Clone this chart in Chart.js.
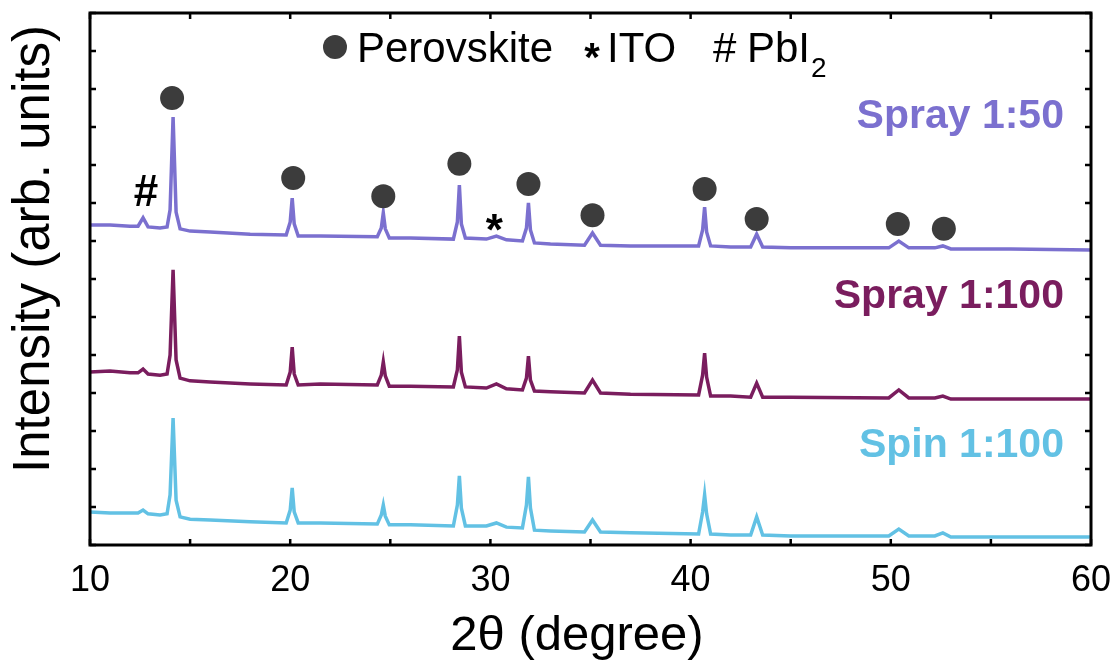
<!DOCTYPE html>
<html>
<head>
<meta charset="utf-8">
<script src="https://cdn.jsdelivr.net/npm/chart.js@4.4.1/dist/chart.umd.min.js"></script>
<style>
  html, body { margin: 0; padding: 0; background: #fff; }
  #wrap { width: 1119px; height: 668px; }
</style>
</head>
<body>
<div id="wrap"><canvas id="xrd"></canvas></div>
<script>
// 2θ positions shared by the three scans
const twoTheta = [10, 11, 12, 12.4, 12.65, 12.9, 13.5, 13.85, 14.0, 14.15, 14.3, 14.5, 15, 16, 18,
  19.8, 20.0, 20.1, 20.2, 20.4, 21.5, 24.35, 24.55, 24.65, 24.75, 24.95, 26, 28.15, 28.35, 28.45,
  28.55, 28.75, 29.8, 30.3, 30.8, 31.6, 31.8, 31.9, 32.0, 32.2, 33, 34.7, 35.1, 35.5, 37, 40.4,
  40.6, 40.7, 40.8, 41.0, 42, 43.0, 43.3, 43.6, 45, 49.9, 50.4, 50.9, 52.2, 52.6, 53.0, 56, 60];

// intensities (arb. units, already offset)
const spray50 = [84.2, 84.2, 83.9, 83.9, 86.1, 83.7, 83.4, 83.7, 88.2, 112.6, 87.6, 83.2, 82.6, 82.4, 81.8,
  81.6, 85.0, 91.3, 84.5, 81.3, 81.3, 81.1, 83.4, 87.4, 83.2, 80.8, 80.8, 80.5, 85.0, 94.7,
  84.5, 80.8, 80.5, 81.3, 80.3, 80.0, 83.4, 90.0, 82.9, 79.5, 79.2, 78.9, 82.1, 78.9, 78.7, 78.7,
  82.9, 88.9, 82.4, 78.7, 78.4, 78.4, 81.8, 78.4, 78.2, 78.2, 80.0, 78.2, 78.2, 78.7, 77.9, 77.9, 77.6];
const spray100 = [45.5, 45.8, 45.3, 45.3, 46.3, 45.0, 44.7, 45.0, 50.0, 72.4, 48.7, 43.9, 43.2, 42.9, 42.4,
  42.1, 45.5, 52.1, 45.0, 42.1, 42.4, 42.1, 44.7, 48.2, 44.5, 41.8, 41.8, 41.6, 46.1, 55.0,
  45.5, 41.6, 41.3, 42.4, 41.1, 40.8, 43.9, 49.7, 43.4, 40.5, 40.3, 40.0, 43.4, 40.0, 39.7, 39.5,
  44.7, 50.5, 44.2, 39.2, 39.2, 38.9, 42.6, 38.9, 38.9, 38.7, 40.8, 38.7, 38.7, 39.2, 38.4, 38.4, 38.4];
const spin100 = [8.7, 8.4, 8.4, 8.4, 9.2, 8.2, 7.9, 8.2, 13.2, 33.4, 11.8, 7.4, 6.8, 6.6, 6.1,
  5.8, 9.2, 15.0, 8.7, 5.8, 5.8, 5.5, 7.9, 10.5, 7.6, 5.3, 5.3, 5.0, 10.5, 18.2,
  9.7, 5.0, 5.0, 5.8, 4.7, 4.5, 10.5, 17.9, 9.7, 3.9, 3.7, 3.4, 6.6, 3.4, 3.2, 2.9,
  8.7, 13.2, 8.2, 2.9, 2.6, 2.6, 7.4, 2.6, 2.4, 2.4, 4.2, 2.4, 2.4, 3.2, 2.1, 2.1, 2.1];

// perovskite reflections marked above the Spray 1:50 scan
const perovskiteAngles = [14.1, 20.15, 24.65, 28.45, 31.9, 35.1, 40.7, 43.3, 50.35, 52.65];
const perovskiteMarks = [117.6, 96.6, 91.8, 100.3, 95.0, 86.8, 93.7, 85.8, 84.5, 83.2];

const seriesNames = ['Spray 1:50', 'Spray 1:100', 'Spin 1:100'];
const seriesColors = ['#7b70cf', '#7a1d5e', '#62c1e4'];

Chart.defaults.font.family = '"Liberation Sans", Arial, sans-serif';
Chart.defaults.color = '#000';

function toPoints(ys) {
  return ys.map((v, i) => ({ x: twoTheta[i], y: v }));
}

function textCentered(ctx, s, cx, cy) {
  const m = ctx.measureText(s);
  ctx.textAlign = 'center';
  ctx.textBaseline = 'alphabetic';
  ctx.fillText(s, cx, cy + (m.actualBoundingBoxAscent - m.actualBoundingBoxDescent) / 2);
}

// series names, right aligned, baseline in data units
const nameSpots = [{ x: 58.65, y: 109.7 }, { x: 58.65, y: 62.4 }, { x: 58.65, y: 23.2 }];
// phase symbols next to peaks
const peakNotes = [{ text: '#', x: 12.8, y: 93.2 }, { text: '*', x: 30.2, y: 85.0 }];

const decorations = {
  id: 'decorations',
  afterDatasetsDraw(chart) {
    const { ctx, chartArea: a, scales: { x, y } } = chart;
    ctx.save();

    // frame and inward ticks
    ctx.strokeStyle = '#000';
    ctx.lineWidth = 3;
    ctx.strokeRect(a.left, a.top, a.right - a.left, a.bottom - a.top);
    ctx.lineWidth = 2.5;
    ctx.beginPath();
    x.ticks.forEach(t => {
      const px = x.getPixelForValue(t.value);
      ctx.moveTo(px, a.bottom); ctx.lineTo(px, a.bottom - 6);
      ctx.moveTo(px, a.top); ctx.lineTo(px, a.top + 6);
    });
    y.ticks.forEach(t => {
      const py = y.getPixelForValue(t.value);
      ctx.moveTo(a.left, py); ctx.lineTo(a.left + 6, py);
      ctx.moveTo(a.right, py); ctx.lineTo(a.right - 6, py);
    });
    ctx.stroke();

    // series names
    ctx.font = 'bold 41px "Liberation Sans", Arial, sans-serif';
    ctx.textAlign = 'right';
    ctx.textBaseline = 'alphabetic';
    seriesNames.forEach((n, i) => {
      ctx.fillStyle = seriesColors[i];
      ctx.fillText(n, x.getPixelForValue(nameSpots[i].x), y.getPixelForValue(nameSpots[i].y));
    });

    // phase symbols
    ctx.fillStyle = '#000';
    ctx.font = 'bold 44px "Liberation Sans", Arial, sans-serif';
    peakNotes.forEach(p => textCentered(ctx, p.text, x.getPixelForValue(p.x), y.getPixelForValue(p.y)));

    // legend line at the top
    const ly = a.top + 34;
    ctx.fillStyle = '#3c3c3c';
    ctx.beginPath();
    ctx.arc(335, ly, 12, 0, Math.PI * 2);
    ctx.fill();
    ctx.fillStyle = '#000';
    ctx.font = '42px "Liberation Sans", Arial, sans-serif';
    ctx.textAlign = 'left';
    ctx.textBaseline = 'alphabetic';
    ctx.fillText('Perovskite', 357, ly + 15);
    ctx.fillText('ITO', 607, ly + 15);
    ctx.fillText('#', 713, ly + 15);
    ctx.fillText('PbI', 747, ly + 15);
    const pbw = ctx.measureText('PbI').width;
    ctx.font = '28px "Liberation Sans", Arial, sans-serif';
    ctx.fillText('2', 747 + pbw + 1, ly + 30);
    ctx.font = 'bold 40px "Liberation Sans", Arial, sans-serif';
    textCentered(ctx, '*', 592, ly + 4);

    // x axis title
    ctx.font = '49px "Liberation Sans", Arial, sans-serif';
    ctx.textAlign = 'center';
    ctx.textBaseline = 'middle';
    ctx.fillText('2θ (degree)', 577, a.bottom + 91);

    // y axis title
    ctx.translate(35, 249);
    ctx.rotate(-Math.PI / 2);
    ctx.font = '51px "Liberation Sans", Arial, sans-serif';
    ctx.fillText('Intensity (arb. units)', 0, 0);

    ctx.restore();
  }
};

new Chart(document.getElementById('xrd'), {
  type: 'line',
  data: {
    datasets: [
      {
        label: 'Perovskite',
        data: perovskiteAngles.map((v, i) => ({ x: v, y: perovskiteMarks[i] })),
        showLine: false,
        pointRadius: 12,
        pointBackgroundColor: '#3c3c3c',
        pointBorderWidth: 0,
      },
      ...seriesNames.map((n, i) => ({
        label: n,
        data: toPoints([spray50, spray100, spin100][i]),
        borderColor: seriesColors[i],
        borderWidth: 3.5,
        pointRadius: 0,
        tension: 0,
      })),
    ],
  },
  options: {
    responsive: true,
    maintainAspectRatio: false,
    animation: false,
    layout: { padding: { top: 13, right: 28, left: 0, bottom: 0 } },
    plugins: { legend: { display: false }, tooltip: { enabled: false } },
    scales: {
      x: {
        type: 'linear',
        min: 10,
        max: 60,
        afterFit(s) {
          s.height = 123;
          s.paddingLeft = 0;
          s.paddingRight = 0;
        },
        ticks: {
          stepSize: 5,
          autoSkip: false,
          maxRotation: 0,
          padding: 14,
          font: { size: 36 },
          callback: v => (v % 10 === 0 ? v : ''),
        },
        grid: { display: false, drawTicks: false },
        border: { display: false },
      },
      y: {
        min: 0,
        max: 140,
        afterFit(s) { s.width = 90; },
        ticks: { display: false, stepSize: 10 },
        grid: { display: false, drawTicks: false },
        border: { display: false },
      },
    },
  },
  plugins: [decorations],
});
</script>
</body>
</html>
